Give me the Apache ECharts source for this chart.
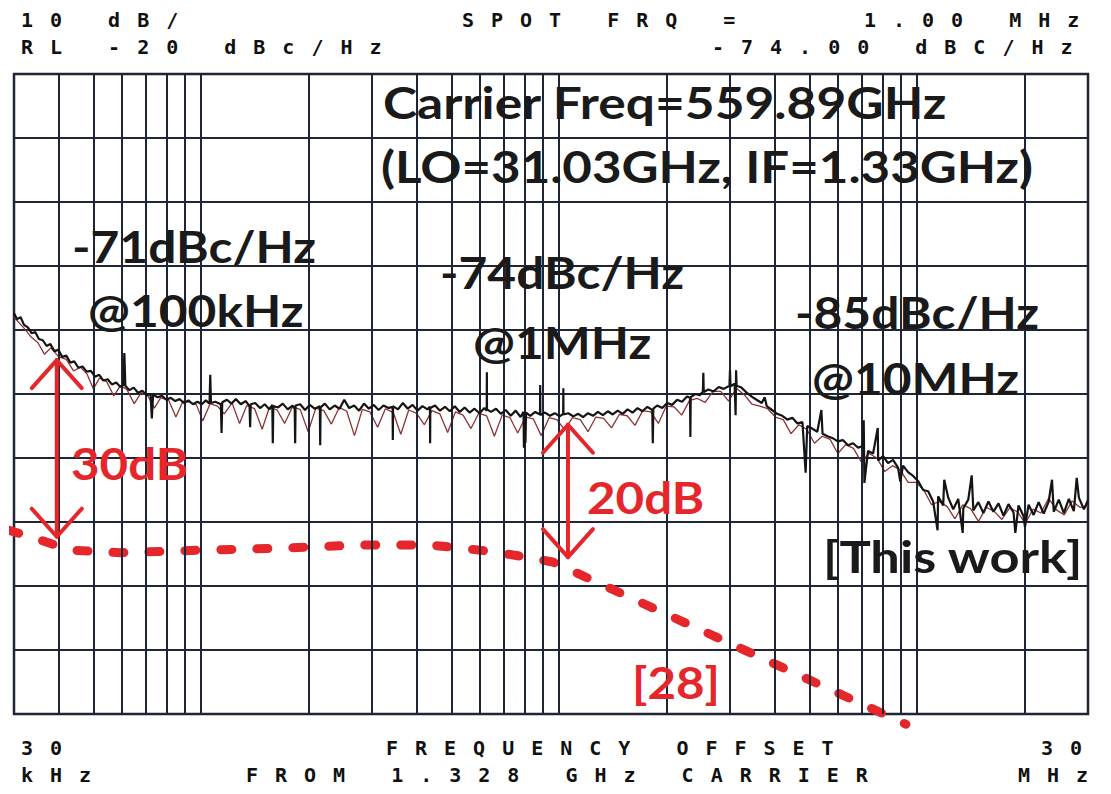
<!DOCTYPE html>
<html><head><meta charset="utf-8">
<script src="https://cdn.jsdelivr.net/npm/echarts@6/dist/echarts.min.js"></script>
<style>
html,body{margin:0;padding:0;background:#fff;}
#chart{width:1111px;height:794px;}
#chart text[style*="DejaVu Sans Mono"]{letter-spacing:17px;}
</style></head><body><div id="chart"></div>
<script>
// ---- data (frequency offset in kHz, level in dBc/Hz) ----
const xMinKHz = 30, xMaxKHz = 30000;
const yMin = -120, yMax = -20, yStep = 10;
const gridFreqsKHz = [40,50,60,70,80,90,100,200,300,400,500,600,700,800,900,1000,2000,3000,4000,5000,6000,7000,8000,9000,10000,20000];

const traceBlack = [
[30,-57.4],[30.6,-58.3],[31.3,-58.0],[32,-59.2],[32.8,-59.6],[33.6,-60.5],[34.4,-60.3],[35.2,-61.4],[36.1,-61.6],[37,-62.5],[37.9,-62.2],[38.9,-63.3],[39.9,-63.1],[40.9,-64.2],[42,-64.0],[43.1,-65.1],[44.2,-64.9],[45.4,-65.9],[46.6,-65.7],[47.9,-66.5],[49.2,-66.4],[50.5,-67.3],[51.9,-67.0],[53.3,-67.9],[54.8,-67.7],[56.3,-68.5],[57.9,-68.2],[59.5,-68.9],[60.6,-68.6],[61,-63.6],[61.4,-68.7],[63,-69.4],[64.8,-69.0],[66.6,-69.8],[68.5,-69.5],[70.4,-70.2],[72.2,-70.0],[72.8,-73.8],[73.4,-70.1],[75.5,-70.5],[77.7,-70.3],[79.9,-70.9],[82.2,-70.6],[84.6,-71.1],[87,-70.8],[89.5,-71.4],[92.1,-71.0],[94.8,-71.6],[97.6,-71.2],[100.4,-71.6],
[103,-71.0],[105.5,-71.5],[106,-67.0],[106.5,-71.4],[109.5,-71.2],[113.5,-71.6],[114,-76.1],[114.5,-71.3],[118,-70.9],[121.5,-71.5],[125,-70.8],[129,-71.6],[133,-71.1],[136.5,-71.9],[137,-75.2],[137.5,-71.6],[141.5,-71.4],[146,-72.2],[150.5,-71.6],[155,-72.4],[158,-71.7],[158.5,-77.7],[159,-71.9],[164,-72.1],[169,-71.5],[174.5,-72.4],[180,-71.8],[182.5,-72.3],[183,-77.7],[183.5,-71.8],[189,-71.6],[195,-72.5],[201,-71.7],[207.5,-72.3],[214.5,-71.9],[215,-78.0],[215.5,-72.1],[221.5,-71.5],[228.5,-72.4],[236,-71.8],[243.5,-72.3],[251,-70.9],[259,-72.2],[267.5,-71.8],[276,-72.6],[285,-71.5],[294,-72.3],[303.5,-71.7],[313,-72.5],[323,-71.8],[333.5,-72.2],[342.5,-72.0],[343,-77.2],[343.5,-71.9],[354.5,-72.4],[366,-71.4],[377.5,-72.3],[389.5,-71.7],[402,-72.6],[415,-71.9],[428.5,-72.4],[435.5,-72.0],[436,-77.7],[436.5,-72.2],[450,-71.8],[464.5,-72.6],[479.5,-72.0],[495,-72.7],[511,-71.9],[527.5,-72.8],[544.5,-72.1],[562,-72.9],[580,-72.3],[599,-73.0],[618,-72.2],[627.5,-72.6],[628,-66.6],[628.5,-72.4],[645,-72.8],[666,-72.3],[687,-73.1],[709,-72.5],[732,-73.4],[756,-72.6],[780,-73.6],[795,-72.8],[797,-78.4],[799,-73.0],[805,-77.6],[808,-72.9],[830,-73.4],[857,-72.8],[884,-73.2],[885,-68.6],[886,-73.3],[913,-72.9],[942,-73.4],[972,-73.0],[1003,-73.5],
[1026,-73.1],[1027,-69.1],[1028,-73.2],[1060,-73.0],[1095,-73.5],[1130,-73.1],[1166,-73.6],[1204,-73.0],[1243,-73.4],[1283,-72.8],[1324,-73.3],[1367,-72.7],[1411,-73.2],[1457,-72.6],[1504,-73.1],[1553,-72.4],[1603,-72.9],[1655,-72.2],[1708,-72.7],[1763,-72.0],[1820,-72.5],[1826,-77.7],[1832,-72.3],[1879,-71.8],[1940,-72.2],[2003,-71.4],[2068,-71.7],[2135,-70.9],[2204,-71.2],[2275,-70.4],[2320,-70.6],[2325,-76.7],[2330,-70.5],[2400,-70.0],[2470,-70.2],[2520,-69.6],[2527,-66.7],[2534,-69.7],[2610,-69.3],[2700,-69.6],[2790,-68.9],[2880,-69.2],[2990,-68.7],[3000,-66.3],[3010,-68.8],[3090,-68.4],[3110,-73.3],[3120,-66.3],[3130,-68.7],[3230,-69.0],[3340,-69.8],[3450,-70.4],[3560,-70.9],[3680,-71.4],[3750,-70.5],[3800,-71.9],[3930,-72.5],[4060,-73.1],[4200,-73.4],[4340,-74.0],[4480,-73.7],[4630,-74.6],[4780,-74.4],[4880,-82.3],[4930,-75.0],[5090,-75.4],[5260,-75.9],[5400,-72.5],[5440,-76.2],[5620,-76.6],[5810,-76.9],[6000,-77.4],[6200,-77.2],[6410,-78.0],[6620,-77.7],[6840,-78.4],[7060,-78.1],[7090,-74.1],[7120,-83.9],[7290,-78.9],[7530,-79.3],[7760,-75.3],[7780,-80.4],[8030,-79.7],[8290,-80.8],[8560,-80.3],[8840,-81.5],[8970,-83.7],[9130,-81.2],[9430,-82.2],[9740,-82.8],
[10060,-83.6],[10390,-85.0],[10730,-85.2],[11080,-86.8],[11400,-91.3],[11440,-86.0],[11820,-87.4],[11900,-83.4],[12210,-86.2],[12610,-88.0],[13020,-86.4],[13400,-91.7],[13450,-87.9],[13890,-86.5],[14200,-82.7],[14350,-88.2],[14820,-86.9],[15310,-88.6],[15810,-86.8],[16330,-88.4],[16870,-87.1],[17420,-89.0],[17990,-87.2],[18580,-88.5],[18800,-91.7],[19190,-87.4],[19820,-89.1],[20000,-90.8],[20470,-87.3],[21140,-88.9],[21840,-86.9],[22560,-88.7],[23300,-86.8],[23800,-83.4],[24070,-88.4],[24860,-86.5],[25680,-88.6],[26520,-86.4],[27390,-88.3],[27900,-83.1],[28290,-86.2],[29220,-88.0],[30000,-86.6]
];

const traceRed = [
[30,-58.0],[32,-59.7],[33.5,-61.1],[35,-62.0],[36.5,-63.8],[38,-62.8],[40,-64.2],[42,-64.6],[44,-66.4],[46,-65.8],[48,-66.9],[50,-69.2],[52,-67.5],[54.5,-68.1],[57,-70.3],[59.5,-68.7],[62,-69.3],[65,-71.5],[68,-69.8],[71,-70.3],[74,-72.2],[77,-70.6],[81,-70.9],[85,-73.6],[89,-71.1],[93,-71.3],[97,-71.7],[101,-74.2],[106,-71.5],[111,-71.9],[116,-73.1],[122,-71.4],[128,-74.6],[134,-71.8],[141,-72.3],[148,-75.5],[155,-72.1],[163,-72.5],[171,-74.6],[180,-72.0],[189,-72.4],[199,-75.9],[209,-72.2],[220,-72.6],[231,-74.7],[243,-72.1],[255,-72.7],[268,-76.5],[282,-72.4],[296,-72.8],[311,-75.2],[327,-72.3],[344,-72.9],[361,-76.3],[380,-72.5],[399,-73.0],[420,-74.8],[441,-72.6],[464,-73.1],[488,-76.0],[513,-72.8],[539,-73.3],[567,-75.4],[596,-73.0],[627,-73.4],[659,-76.6],[693,-73.3],[729,-73.7],[766,-76.1],[806,-73.6],[847,-73.9],[891,-76.5],[937,-73.7],[985,-74.0],[1036,-75.6],[1089,-73.7],[1145,-74.0],[1204,-75.9],[1266,-73.6],[1331,-73.8],[1400,-75.3],[1472,-73.2],[1548,-73.4],[1628,-74.9],[1712,-72.6],[1800,-72.8],[1893,-74.6],[1990,-71.9],[2092,-72.0],[2200,-73.3],[2313,-71.0],[2432,-70.7],[2557,-71.3],[2689,-69.6],[2827,-69.6],[2973,-71.1],[3126,-69.1],[3287,-70.1],[3456,-71.6],[3634,-71.9],[3821,-72.3],[4018,-73.6],[4225,-74.0],[4442,-76.2],[4671,-74.8],[4911,-75.5],[5164,-77.7],[5430,-76.6],[5710,-77.1],[6004,-79.3],[6313,-77.9],[6638,-78.5],[6980,-80.6],[7339,-79.3],[7717,-80.0],[8115,-82.1],[8533,-81.2],[8972,-81.9],[9434,-83.8],[9920,-83.8],[10430,-85.0],[10970,-87.3],[11530,-86.8],[12130,-87.6],[12750,-89.5],[13410,-87.3],[14100,-87.9],[14830,-89.9],[15590,-87.7],[16390,-88.3],[17240,-89.6],[18120,-87.8],[19060,-88.4],[20040,-90.2],[21070,-88.0],[22150,-88.6],[23290,-86.3],[24490,-88.1],[25750,-88.9],[27080,-86.7],[28470,-87.7],[30000,-87.5]
];

// reference [28] curve (dashed red)
const ref28 = [[28.9,-91.25],[35.5,-92.8],[43,-94.4],[59.3,-94.8],[99.2,-94.4],[166,-94.1],[278,-93.6],[436,-93.6],[601,-94.4],[752,-95.2],[960,-96.25],[9300,-121.6]];

// double-headed arrows: [freq kHz, top dB, bottom dB]
const arrowMarks = [[39.5,-64.7,-92.3],[1058,-74.8,-95.5]];

const headerTexts = ['10 dB/','RL -20 dBc/Hz','SPOT FRQ =','1.00 MHz','-74.00 dBC/Hz'];
const footerTexts = ['30','kHz','FREQUENCY OFFSET','FROM 1.328 GHz CARRIER','30','MHz'];
const noteTexts = ['Carrier Freq=559.89GHz','(LO=31.03GHz, IF=1.33GHz)','-71dBc/Hz','@100kHz','-74dBc/Hz','@1MHz','-85dBc/Hz','@10MHz','[This work]'];
const redNoteTexts = ['30dB','20dB','[28]'];

// ---- layout / style ----
const RED = '#e5262b';
const GRIDC = '#1d2536';
const MONO = '"DejaVu Sans Mono"';
const headerPos = [[21,20],[21,47],[462,20],[864,20],[712,47]];
const footerPos = [[21,748],[21,775],[386,748],[246,775],[1041,748],[1018,775]];
const notePos = [[383,80],[381,144],[72,224],[88,288],[440,250],[473,320],[795,290],[812,356],[823,534]];
const noteScale = [1.17,1.16,1.13,1.13,1.13,1.13,1.13,1.13,1.19];
const redNotePos = [[71,441],[587,475],[632,660]];

const graphics = [];
headerTexts.forEach((t,i)=>graphics.push({type:'text',x:headerPos[i][0],y:headerPos[i][1],silent:true,
  style:{text:t,font:'bold 20px '+MONO,fill:'#111',textAlign:'left',textVerticalAlign:'middle'}}));
footerTexts.forEach((t,i)=>graphics.push({type:'text',x:footerPos[i][0],y:footerPos[i][1],silent:true,
  style:{text:t,font:'bold 20px '+MONO,fill:'#111',textAlign:'left',textVerticalAlign:'middle'}}));
noteTexts.forEach((t,i)=>graphics.push({type:'text',x:notePos[i][0],y:notePos[i][1],scaleX:noteScale[i],silent:true,z:20,
  style:{text:t,font:'bold 44px Lato',fill:'#1a1a1a',textAlign:'left',textVerticalAlign:'top'}}));
redNoteTexts.forEach((t,i)=>graphics.push({type:'text',x:redNotePos[i][0],y:redNotePos[i][1],scaleX:1.12,silent:true,z:20,
  style:{text:t,font:'bold 44px Lato',fill:RED,textAlign:'left',textVerticalAlign:'top'}}));

const chart = echarts.init(document.getElementById('chart'), null, {renderer:'svg'});
chart.setOption({
  animation:false,
  backgroundColor:'#ffffff',
  grid:{left:14,right:23,top:74,bottom:80,show:true,borderColor:GRIDC,borderWidth:2.5,backgroundColor:'transparent'},
  xAxis:{type:'log',logBase:10,min:xMinKHz,max:xMaxKHz,axisLabel:{show:false},axisTick:{show:false},axisLine:{show:false},splitLine:{show:false},minorTick:{show:false},minorSplitLine:{show:false}},
  yAxis:{type:'value',min:yMin,max:yMax,interval:yStep,axisLabel:{show:false},axisTick:{show:false},axisLine:{show:false},
    splitLine:{show:true,lineStyle:{color:GRIDC,width:2}}},
  graphic:graphics,
  series:[
    {type:'line',name:'grid',data:[],z:1,silent:true,
      markLine:{silent:true,symbol:['none','none'],label:{show:false},animation:false,
        lineStyle:{type:'solid',color:GRIDC,width:2},
        data:gridFreqsKHz.map(v=>({xAxis:v}))}},
    {type:'line',name:'[28]',data:ref28,showSymbol:false,symbol:'none',clip:false,z:3,silent:true,
      lineStyle:{color:RED,width:9,type:[11,25],cap:'round'}},
    {type:'line',name:'trace2',data:traceRed,showSymbol:false,symbol:'none',z:4,silent:true,
      lineStyle:{color:'#8c3434',width:1.3}},
    {type:'line',name:'This work',data:traceBlack,showSymbol:false,symbol:'none',z:5,silent:true,
      lineStyle:{color:'#141414',width:2.2}},
    {type:'custom',name:'arrows',data:arrowMarks,z:6,silent:true,clip:false,
      encode:{x:0,y:[1,2]},
      renderItem:function(params,api){
        const f=api.value(0);
        const p1=api.coord([f,api.value(1)]), p2=api.coord([f,api.value(2)]);
        const w=25,h=28;
        const st={stroke:RED,lineWidth:4,fill:null,lineCap:'round',lineJoin:'round'};
        return {type:'group',children:[
          {type:'line',shape:{x1:p1[0],y1:p1[1],x2:p2[0],y2:p2[1]},style:st},
          {type:'polyline',shape:{points:[[p1[0]-w,p1[1]+h],[p1[0],p1[1]],[p1[0]+w,p1[1]+h]]},style:st},
          {type:'polyline',shape:{points:[[p2[0]-w,p2[1]-h],[p2[0],p2[1]],[p2[0]+w,p2[1]-h]]},style:st}
        ]};
      }}
  ]
});
</script></body></html>
